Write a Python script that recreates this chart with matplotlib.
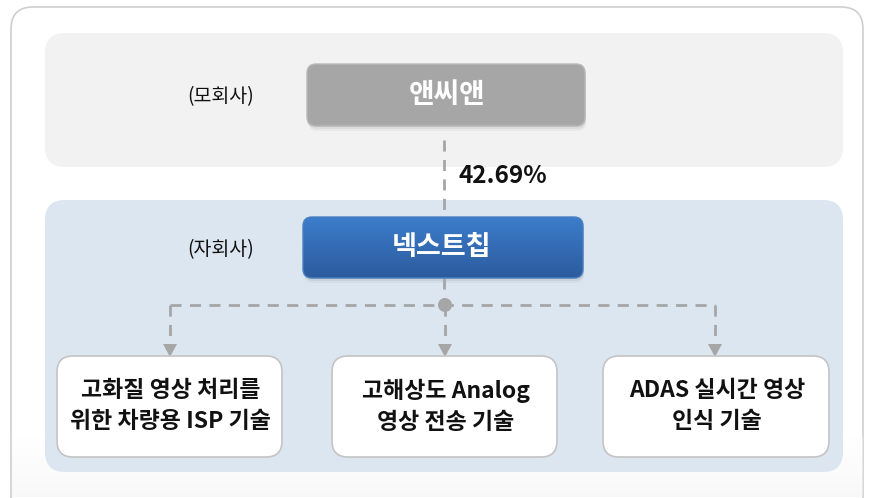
import matplotlib
matplotlib.use("Agg")
import matplotlib.pyplot as plt
from matplotlib.patches import FancyBboxPatch, Circle, Polygon
import numpy as np

plt.rcParams['font.family'] = ['Noto Sans CJK KR', 'DejaVu Sans']

# ---- content ----
parent_label = "(모회사)"
parent_name = "앤씨앤"
child_label = "(자회사)"
child_name = "넥스트칩"
ownership = "42.69%"
tech_items = ["고화질 영상 처리를\n위한 차량용 ISP 기술",
              "고해상도 Analog\n영상 전송 기술",
              "ADAS 실시간 영상\n인식 기술"]

W, H = 872, 498
fig = plt.figure(figsize=(W / 100, H / 100), dpi=100)
ax = fig.add_axes([0, 0, 1, 1])
ax.set_xlim(0, W)
ax.set_ylim(H, 0)
ax.axis('off')

def rbox(x0, y0, x1, y1, r, fc, ec='none', lw=0, z=1, alpha=1.0):
    p = FancyBboxPatch((x0, y0), x1 - x0, y1 - y0,
                       boxstyle=f"round,pad=0,rounding_size={r}",
                       fc=fc, ec=ec, lw=lw, zorder=z, alpha=alpha)
    ax.add_patch(p)
    return p

# outer frame
rbox(11, 7, 863, 520, 22, '#ffffff', '#cfcfcf', 1.2, z=0)
grad = np.linspace(1, 0.975, 60).reshape(-1, 1)
im = ax.imshow(np.dstack([grad, grad, grad]), extent=(12, 862, 497, 437),
               zorder=0.5, aspect='auto')
clip = rbox(11.6, 7.6, 862.4, 520, 22, 'none', z=0.4)
im.set_clip_path(clip)

# panels
rbox(45, 33, 843, 167, 20, '#f2f2f2', z=1)
rbox(45, 200, 843, 472, 20, '#dce6f1', z=1)

# soft shadows
def shadow(x0, y0, x1, y1, r):
    for k, a in [(1, 0.06), (3, 0.05), (5, 0.04)]:
        rbox(x0 + 1, y0 + k, x1 + 1, y1 + k, r, '#000000', z=2, alpha=a)

# parent box
shadow(307, 64, 585, 126, 9)
rbox(307, 64, 585, 126, 9, '#a6a6a6', '#b8b8b8', 1.0, z=3)
ax.text(447, 95, parent_name, ha='center', va='center', color='white',
        fontsize=20, fontweight='bold', zorder=4)
ax.text(221, 97, parent_label, ha='center', va='center', color='#111111',
        fontsize=14, zorder=4)

# connector parent-child
dash = dict(color='#a6a6a6', lw=2.0, linestyle=(0, (4, 3)), zorder=2)
ax.plot([444, 444], [140, 217], **dash)
ax.text(458, 176, ownership, ha='left', va='center', color='#111111',
        fontsize=17.5, fontweight='bold', zorder=4)

# child box with gradient
shadow(303, 217, 583, 278, 9)
cb = rbox(303, 217, 583, 278, 9, 'none', '#4a7fc0', 1.0, z=4)
g = np.linspace(0, 1, 100).reshape(-1, 1)
top = np.array([0x3c, 0x7d, 0xcb]) / 255
bot = np.array([0x2c, 0x5b, 0x9e]) / 255
img = top + (bot - top) * g[:, :, None] * np.ones((1, 1, 3))
gim = ax.imshow(img, extent=(303, 583, 278, 217), zorder=3, aspect='auto')
gim.set_clip_path(cb)
ax.text(441, 247, child_name, ha='center', va='center', color='white',
        fontsize=19.5, fontweight='bold', zorder=5)
ax.text(221, 250, child_label, ha='center', va='center', color='#111111',
        fontsize=14, zorder=4)

# tree connectors
bx = [[57, 282], [332, 557], [603, 829]]
cx = [170, 445, 715]
ax.plot([444, 444], [278, 305], **dash)
ax.plot([cx[0], cx[-1]], [305, 305], **dash)
for x in cx:
    ax.plot([x, x], [305, 345], **dash)
    ax.add_patch(Polygon([[x - 7, 344], [x + 7, 344], [x, 357]], closed=True,
                         fc='#a6a6a6', ec='none', zorder=3))
ax.add_patch(Circle((445, 305), 7, fc='#a6a6a6', ec='none', zorder=3))

# tech boxes
for (x0, x1), label in zip(bx, tech_items):
    rbox(x0, 356, x1, 457, 16, '#ffffff', '#c4c4c4', 1.2, z=4)
    ax.text((x0 + x1) / 2 + 1, 406, label, ha='center', va='center',
            color='#111111', fontsize=16.5, fontweight='bold',
            linespacing=1.45, zorder=5)

fig.savefig('out.png', dpi=100)
